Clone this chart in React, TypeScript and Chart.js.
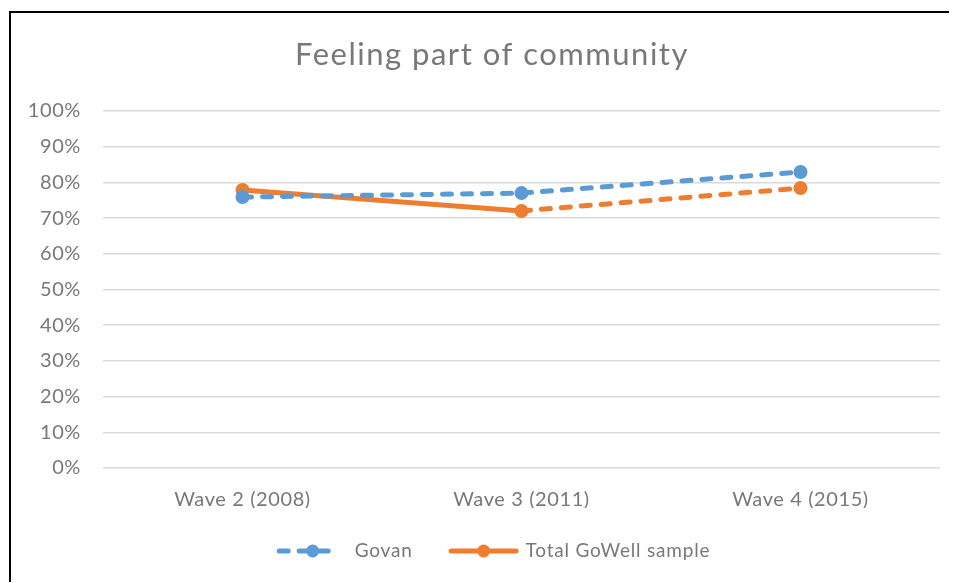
import React, { useEffect, useRef } from "react";
import { Chart, registerables } from "chart.js";

Chart.register(...registerables);

const categories = ["Wave 2 (2008)", "Wave 3 (2011)", "Wave 4 (2015)"];
const govan = [75.9, 77.0, 82.9];
const totalGoWell = [77.9, 72.0, 78.4];
const seriesNames = ["Govan", "Total GoWell sample"];
const titleText = "Feeling part of community";

const BLUE = "#5B9BD5";
const ORANGE = "#ED7D31";
const TEXT = "#787878";
const FONT = "Lato, 'Open Sans', sans-serif";

const spacingPlugin = {
  id: "spacing",
  beforeLayout(chart: any) {
    chart.ctx.letterSpacing = "0.6px";
  },
  beforeDraw(chart: any) {
    chart.ctx.letterSpacing = "0.6px";
  },
};

const titleLegendPlugin = {
  id: "titleLegend",
  afterDraw(chart: any) {
    const ctx = chart.ctx;
    const cx = 480;
    ctx.save();
    // title
    ctx.letterSpacing = "1.5px";
    ctx.font = `31px ${FONT}`;
    ctx.fillStyle = TEXT;
    ctx.textAlign = "center";
    ctx.textBaseline = "alphabetic";
    ctx.fillText(titleText, cx + 1, 52);

    // legend
    ctx.letterSpacing = "0.8px";
    ctx.font = `19px ${FONT}`;
    const y = chart.height - 32;
    const markerW = [63, 70];
    const circleAt = [36, 35];
    const textGap = [15, 7];
    const itemGap = 36;
    const widths = seriesNames.map((n) => ctx.measureText(n).width);
    const total = markerW[0] + textGap[0] + widths[0] + itemGap + markerW[1] + textGap[1] + widths[1];
    let x = 482.5 - total / 2;
    const dashes = [[9, 11], []];
    const colors = [BLUE, ORANGE];
    for (let i = 0; i < 2; i++) {
      ctx.strokeStyle = colors[i];
      ctx.lineWidth = 5;
      ctx.lineCap = "round";
      ctx.setLineDash(dashes[i]);
      ctx.beginPath();
      ctx.moveTo(x + 2.5, y);
      ctx.lineTo(x + markerW[i] - 2.5, y);
      ctx.stroke();
      ctx.setLineDash([]);
      ctx.fillStyle = colors[i];
      ctx.beginPath();
      ctx.arc(x + circleAt[i], y, 6.5, 0, Math.PI * 2);
      ctx.fill();
      x += markerW[i] + textGap[i];
      ctx.fillStyle = TEXT;
      ctx.textBaseline = "middle";
      ctx.textAlign = "left";
      ctx.fillText(seriesNames[i], x, y);
      x += widths[i] + itemGap;
    }
    ctx.restore();
  },
};

export default function App() {
  const ref = useRef<HTMLCanvasElement | null>(null);
  useEffect(() => {
    if (!ref.current) return;
    const chart = new Chart(ref.current, {
      type: "line",
      data: {
        labels: categories,
        datasets: [
          {
            label: seriesNames[0],
            data: govan,
            borderColor: BLUE,
            backgroundColor: BLUE,
            borderWidth: 5,
            borderDash: [9, 11],
            borderCapStyle: "round",
            pointRadius: 7,
            pointHoverRadius: 7,
            pointBorderWidth: 0,
            tension: 0,
          },
          {
            label: seriesNames[1],
            data: totalGoWell,
            borderColor: ORANGE,
            backgroundColor: ORANGE,
            borderWidth: 5,
            borderCapStyle: "round",
            pointRadius: 7,
            pointHoverRadius: 7,
            pointBorderWidth: 0,
            tension: 0,
            segment: {
              borderDash: (c: any) => (c.p0DataIndex === 1 ? [9, 11] : []),
            },
          },
        ],
      },
      options: {
        animation: false,
        responsive: false,
        layout: { padding: { left: 17, right: 17, top: 98, bottom: 75 } },
        plugins: {
          legend: { display: false },
          tooltip: { enabled: false },
          title: { display: false },
        },
        scales: {
          x: {
            offset: true,
            grid: { display: false, drawTicks: false },
            border: { display: false },
            ticks: { color: TEXT, font: { family: FONT, size: 20 }, padding: 20, maxRotation: 0 },
            afterFit: (s: any) => {
              s.height = 40;
            },
          },
          y: {
            min: 0,
            max: 100,
            grid: { color: "#D9D9D9", lineWidth: 1.5, drawTicks: false },
            border: { display: false },
            ticks: {
              stepSize: 10,
              color: TEXT,
              font: { family: FONT, size: 20 },
              padding: 22,
              callback: (v: any) => `${v}%`,
            },
            afterFit: (s: any) => {
              s.width = 75;
            },
          },
        },
      },
      plugins: [spacingPlugin, titleLegendPlugin],
    });
    return () => chart.destroy();
  }, []);
  return (
    <div
      style={{
        position: "relative",
        left: 1,
        top: 3,
        width: 946,
        height: 572,
        border: "2px solid #000",
        borderRight: "none",
        borderBottom: "none",
        background: "#fff",
      }}
    >
      <canvas ref={ref} width={946} height={570} style={{ display: "block" }} />
    </div>
  );
}
